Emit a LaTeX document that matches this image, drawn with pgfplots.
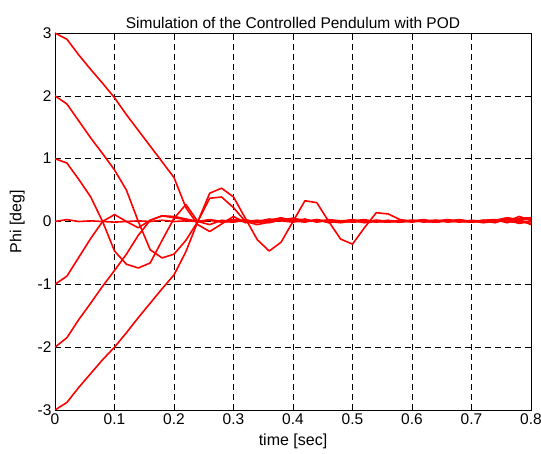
\documentclass[border=0pt]{standalone}
\usepackage{pgfplots}
\pgfplotsset{compat=1.18}
\usepackage{fontspec}
\setmainfont{Liberation Sans}
\begin{document}
\begin{tikzpicture}
\begin{axis}[
  at={(0pt,0pt)}, anchor=south west,
  scale only axis, width=476pt, height=377pt,
  xmin=0, xmax=0.8, ymin=-3, ymax=3,
  xtick={0,0.1,...,0.8}, ytick={-3,-2,...,3},
  xticklabels={0,0.1,0.2,0.3,0.4,0.5,0.6,0.7,0.8},
  yticklabels={-3,-2,-1,0,1,2,3},
  /pgf/number format/assume math mode=true,
  tick align=inside, tick pos=both,
  major tick length=6pt,
  tick style={black, line width=0.6pt},
  axis line style={black, line width=0.7pt},
  grid=major,
  major grid style={black, dash pattern=on 6pt off 4pt, line width=0.5pt},
  tick label style={font=\fontsize{15.5}{17}\selectfont},
  xticklabel style={yshift=0pt},
  yticklabel style={xshift=0pt},
  title={Simulation of the Controlled Pendulum with POD},
  title style={font=\fontsize{15.5}{18}\selectfont, yshift=-5pt},
  xlabel={time [sec]}, ylabel={Phi [deg]},
  label style={font=\fontsize{16}{18}\selectfont},
  xlabel style={yshift=-3pt},
  ylabel style={yshift=6pt},
  cycle list={{red, solid, mark=none}},
  every axis plot/.append style={red, line width=1.6pt, line join=round, mark=none},
]
% +3
\addplot coordinates {(0,3) (0.02,2.9) (0.04,2.65) (0.06,2.42) (0.08,2.2) (0.1,1.97) (0.12,1.7) (0.14,1.45) (0.16,1.2) (0.18,0.95) (0.2,0.7) (0.22,0.22) (0.24,-0.05) (0.26,-0.16) (0.28,-0.04) (0.3,0.08) (0.32,-0.02) (0.34,0.01) (0.36,-0.02) (0.38,0.03) (0.4,0.0) (0.42,0.04) (0.44,-0.01) (0.46,0.02) (0.48,0.0) (0.5,0.03) (0.52,-0.01) (0.54,0.02) (0.56,0.0) (0.58,0.01) (0.6,-0.01) (0.62,0.02) (0.64,0.0) (0.66,0.01) (0.68,-0.01) (0.7,0.02) (0.72,0.0) (0.74,0.02) (0.76,0.06) (0.78,0.03) (0.8,-0.05)};
% +2
\addplot coordinates {(0,2) (0.02,1.87) (0.04,1.6) (0.06,1.33) (0.08,1.08) (0.1,0.82) (0.12,0.5) (0.14,0.0) (0.16,-0.45) (0.18,-0.58) (0.2,-0.52) (0.22,-0.3) (0.24,0.0) (0.26,0.37) (0.28,0.39) (0.3,0.22) (0.32,0.0) (0.34,-0.05) (0.36,-0.01) (0.38,0.02) (0.4,0.05) (0.42,0.0) (0.44,0.03) (0.46,-0.02) (0.48,0.01) (0.5,0.02) (0.52,-0.02) (0.54,0.0) (0.56,0.02) (0.58,-0.01) (0.6,0.01) (0.62,0.03) (0.64,-0.01) (0.66,0.02) (0.68,0.0) (0.7,0.01) (0.72,-0.02) (0.74,0.01) (0.76,0.0) (0.78,0.08) (0.8,0.02)};
% +1
\addplot coordinates {(0,1) (0.02,0.93) (0.04,0.67) (0.06,0.39) (0.08,0.0) (0.1,-0.47) (0.12,-0.68) (0.14,-0.74) (0.16,-0.66) (0.18,-0.3) (0.2,0.05) (0.22,0.27) (0.24,0.0) (0.26,-0.05) (0.28,0.02) (0.3,0.0) (0.32,0.03) (0.34,-0.02) (0.36,0.02) (0.38,0.06) (0.4,0.01) (0.42,-0.01) (0.44,0.03) (0.46,0.0) (0.48,-0.02) (0.5,0.01) (0.52,0.03) (0.54,-0.01) (0.56,0.01) (0.58,0.0) (0.6,0.02) (0.62,-0.01) (0.64,0.01) (0.66,0.03) (0.68,0.0) (0.7,-0.01) (0.72,0.02) (0.74,0.03) (0.76,-0.02) (0.78,0.05) (0.8,0.06)};
% 0
\addplot coordinates {(0,0) (0.02,0.03) (0.04,0.0) (0.06,0.01) (0.08,0.0) (0.1,-0.01) (0.12,0.0) (0.14,0.01) (0.16,0.0) (0.18,0.02) (0.2,0.0) (0.22,0.01) (0.24,0.0) (0.26,0.03) (0.28,0.0) (0.3,-0.01) (0.32,0.02) (0.34,0.0) (0.36,0.04) (0.38,0.01) (0.4,-0.01) (0.42,0.02) (0.44,0.0) (0.46,0.01) (0.48,-0.01) (0.5,0.0) (0.52,0.02) (0.54,0.0) (0.56,-0.01) (0.58,0.02) (0.6,0.0) (0.62,0.01) (0.64,0.02) (0.66,-0.01) (0.68,0.01) (0.7,0.0) (0.72,0.02) (0.74,0.0) (0.76,0.03) (0.78,-0.03) (0.8,0.0)};
% -1
\addplot coordinates {(0,-1) (0.02,-0.87) (0.04,-0.57) (0.06,-0.27) (0.08,0.0) (0.1,0.11) (0.12,0.0) (0.14,-0.1) (0.16,0.02) (0.18,0.09) (0.2,0.06) (0.22,0.03) (0.24,0.0) (0.26,0.02) (0.28,0.0) (0.3,0.03) (0.32,0.01) (0.34,-0.01) (0.36,0.02) (0.38,0.04) (0.4,0.02) (0.42,0.0) (0.44,0.02) (0.46,-0.01) (0.48,0.0) (0.5,0.02) (0.52,0.0) (0.54,0.01) (0.56,-0.01) (0.58,0.02) (0.6,0.01) (0.62,0.0) (0.64,0.02) (0.66,0.0) (0.68,0.02) (0.7,-0.01) (0.72,0.01) (0.74,-0.02) (0.76,0.04) (0.78,0.0) (0.8,-0.03)};
% -2
\addplot coordinates {(0,-2) (0.02,-1.85) (0.04,-1.56) (0.06,-1.3) (0.08,-1.03) (0.1,-0.78) (0.12,-0.52) (0.14,-0.22) (0.16,0.02) (0.18,0.09) (0.2,0.08) (0.22,0.04) (0.24,0.0) (0.26,0.02) (0.28,-0.01) (0.3,0.01) (0.32,0.0) (0.34,0.02) (0.36,0.0) (0.38,0.03) (0.4,0.05) (0.42,0.02) (0.44,0.0) (0.46,0.03) (0.48,0.01) (0.5,-0.01) (0.52,0.0) (0.54,0.02) (0.56,0.0) (0.58,-0.01) (0.6,0.02) (0.62,0.0) (0.64,-0.01) (0.66,0.01) (0.68,0.03) (0.7,0.0) (0.72,0.01) (0.74,0.0) (0.76,0.05) (0.78,0.02) (0.8,0.04)};
% -3
\addplot coordinates {(0,-3) (0.02,-2.88) (0.04,-2.64) (0.06,-2.42) (0.08,-2.2) (0.1,-2.0) (0.12,-1.77) (0.14,-1.53) (0.16,-1.3) (0.18,-1.07) (0.2,-0.85) (0.22,-0.48) (0.24,0.0) (0.26,0.45) (0.28,0.53) (0.3,0.39) (0.32,0.05) (0.34,-0.29) (0.36,-0.47) (0.38,-0.33) (0.4,0.0) (0.42,0.33) (0.44,0.3) (0.46,0.0) (0.48,-0.28) (0.5,-0.36) (0.52,-0.1) (0.54,0.14) (0.56,0.12) (0.58,0.03) (0.6,0.0) (0.62,0.01) (0.64,-0.01) (0.66,0.02) (0.68,0.0) (0.7,0.01) (0.72,-0.01) (0.74,0.02) (0.76,0.0) (0.78,-0.02) (0.8,0.01)};
\end{axis}
\pgfresetboundingbox
\path (-55pt,-44pt) rectangle (486pt,410pt);
\end{tikzpicture}
\end{document}
